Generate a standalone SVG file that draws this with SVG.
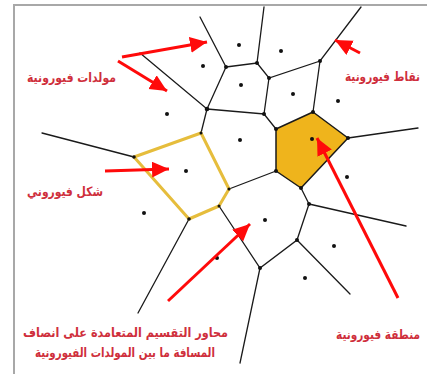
<svg xmlns="http://www.w3.org/2000/svg" width="427" height="374" viewBox="0 0 427 374">
<style>
.frame{fill:none;stroke:#a8a8a8;stroke-width:2}
.edge{fill:none;stroke:#1a1a1a;stroke-width:1.3;stroke-linecap:round}
.v{fill:#111}
.g{fill:#111}
.cell{fill:#efb41c;stroke:#1a1a1a;stroke-width:1.5;stroke-linejoin:round}
.shape{fill:none;stroke:#e6bd3c;stroke-width:3;stroke-linejoin:round}
.arr{fill:none;stroke:#ff0a0a;stroke-width:3;marker-end:url(#ah)}
.lbl{font-family:"DejaVu Sans",sans-serif;font-weight:bold;font-size:13px;fill:#cf2f3c;text-anchor:end}
</style>
<defs>
<marker id="ah" markerUnits="userSpaceOnUse" markerWidth="20" markerHeight="18" refX="17" refY="8" orient="auto">
<path d="M0,0 L17,8 L0,16 Z" fill="#ff0a0a"/>
</marker>
</defs>
<rect width="427" height="374" fill="#fff"/>
<path class="frame" d="M14,374 V5 H427"/>
<g id="region-cell">
<polygon class="cell" points="276,129 313,112 348,138 301,188 276,171"/>
</g>
<g id="connectors">
<path class="edge" d="M200,17 L226,67 M264,7 L257,63 M226,67 L257,63 L269,78 L320,61 L361,7 M140,53 L207,109 L226,67 M207,109 L264,114 L269,78 M264,114 L276,129 M320,61 L313,112 M348,138 L418,128 M207,109 L201,133 M134,157 L42,133 M229,189 L276,171 M219,206 L260,268 L297,240 L309,204 L301,188 M309,204 L406,226 M297,240 L350,294 M260,268 L240,363 M189,219 L138,313"/>
</g>
<g id="voronoi-shape">
<polygon class="shape" points="134,157 201,133 229,189 219,206 189,219"/>
</g>
<g id="vertices">
<circle class="v" cx="226" cy="67" r="2"/><circle class="v" cx="257" cy="63" r="2"/><circle class="v" cx="269" cy="78" r="2"/><circle class="v" cx="320" cy="61" r="2"/><circle class="v" cx="207" cy="109" r="2.3"/><circle class="v" cx="264" cy="114" r="2"/><circle class="v" cx="276" cy="129" r="2"/><circle class="v" cx="313" cy="112" r="2"/><circle class="v" cx="348" cy="138" r="2"/><circle class="v" cx="301" cy="188" r="2"/><circle class="v" cx="276" cy="171" r="2"/><circle class="v" cx="309" cy="204" r="2"/><circle class="v" cx="297" cy="240" r="2"/><circle class="v" cx="260" cy="268" r="2"/><circle class="v" cx="134" cy="157" r="1.8"/><circle class="v" cx="201" cy="133" r="1.5"/><circle class="v" cx="229" cy="189" r="1.5"/><circle class="v" cx="219" cy="206" r="1.5"/><circle class="v" cx="189" cy="219" r="1.8"/>
</g>
<g id="generators">
<circle class="g" cx="239" cy="45" r="2"/><circle class="g" cx="281" cy="51" r="2"/><circle class="g" cx="203" cy="66" r="2"/><circle class="g" cx="241" cy="85" r="2"/><circle class="g" cx="293" cy="94" r="2"/><circle class="g" cx="338" cy="101" r="2"/><circle class="g" cx="167" cy="114" r="2"/><circle class="g" cx="240" cy="140" r="2"/><circle class="g" cx="312" cy="139" r="2"/><circle class="g" cx="186" cy="171" r="2"/><circle class="g" cx="347" cy="177" r="2"/><circle class="g" cx="144" cy="213" r="2"/><circle class="g" cx="265" cy="220" r="2"/><circle class="g" cx="334" cy="246" r="2"/><circle class="g" cx="217" cy="258" r="2"/><circle class="g" cx="305" cy="278" r="2"/>
</g>
<g id="arrows">
<path class="arr" d="M122,57 L207,42"/>
<path class="arr" d="M118,61 L167,91"/>
<path class="arr" d="M105,171 L169,169"/>
<path class="arr" d="M360,53 L335,40"/>
<path class="arr" d="M398,298 L317,138"/>
<path class="arr" d="M168,301 L250,224"/>
</g>
<g id="labels">
<text class="lbl" x="116" y="82" textLength="89" lengthAdjust="spacingAndGlyphs">مولدات فيورونية</text>
<text class="lbl" x="420" y="81" textLength="75" lengthAdjust="spacingAndGlyphs">نقاط فيورونية</text>
<text class="lbl" x="103" y="196" textLength="76" lengthAdjust="spacingAndGlyphs">شكل فيوروني</text>
<text class="lbl" x="228" y="337" textLength="205" lengthAdjust="spacingAndGlyphs">محاور التقسيم المتعامدة على انصاف</text>
<text class="lbl" x="215" y="357" textLength="180" lengthAdjust="spacingAndGlyphs">المسافة ما بين المولدات الفيورونية</text>
<text class="lbl" x="420" y="339" textLength="84" lengthAdjust="spacingAndGlyphs">منطقة فيورونية</text>
</g>
</svg>
